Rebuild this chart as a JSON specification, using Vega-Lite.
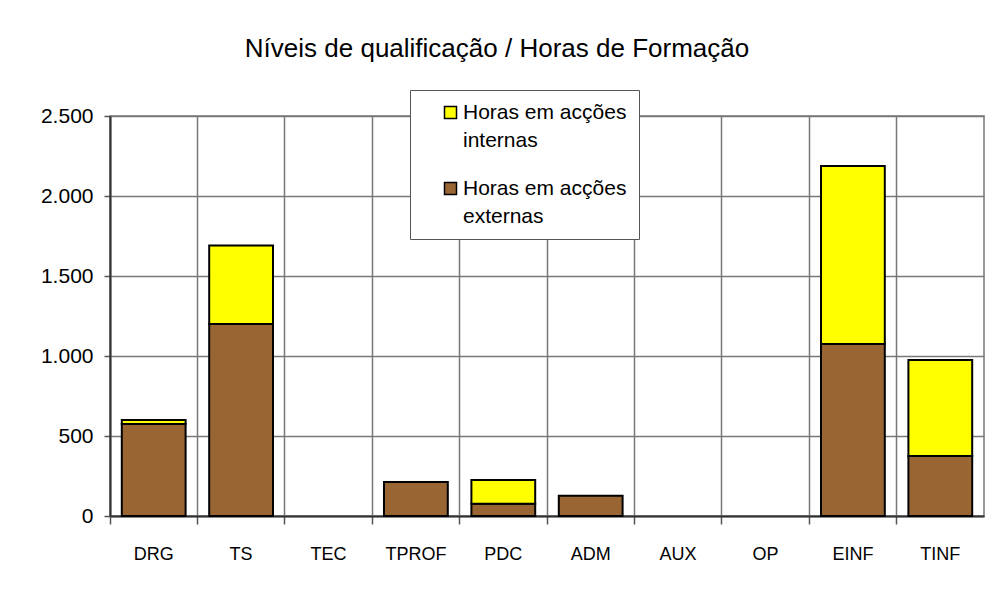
{
  "$schema": "https://vega.github.io/schema/vega-lite/v6.json",
  "width": 874,
  "height": 400,
  "autosize": {"type": "none"},
  "padding": {"left": 110, "top": 116, "right": 8, "bottom": 87},
  "background": "white",
  "title": {
    "text": "Níveis de qualificação / Horas de Formação",
    "font": "Liberation Sans",
    "fontSize": 26,
    "fontWeight": "normal",
    "color": "black",
    "anchor": "middle",
    "frame": "group",
    "dx": -50,
    "offset": 28
  },
  "data": {
    "values": [
      {"nivel": "DRG", "tipo": "Horas em acções externas", "horas": 575},
      {"nivel": "DRG", "tipo": "Horas em acções internas", "horas": 25},
      {"nivel": "TS", "tipo": "Horas em acções externas", "horas": 1200},
      {"nivel": "TS", "tipo": "Horas em acções internas", "horas": 490},
      {"nivel": "TEC", "tipo": "Horas em acções externas", "horas": 0},
      {"nivel": "TEC", "tipo": "Horas em acções internas", "horas": 0},
      {"nivel": "TPROF", "tipo": "Horas em acções externas", "horas": 212},
      {"nivel": "TPROF", "tipo": "Horas em acções internas", "horas": 0},
      {"nivel": "PDC", "tipo": "Horas em acções externas", "horas": 77},
      {"nivel": "PDC", "tipo": "Horas em acções internas", "horas": 148},
      {"nivel": "ADM", "tipo": "Horas em acções externas", "horas": 127},
      {"nivel": "ADM", "tipo": "Horas em acções internas", "horas": 0},
      {"nivel": "AUX", "tipo": "Horas em acções externas", "horas": 0},
      {"nivel": "AUX", "tipo": "Horas em acções internas", "horas": 0},
      {"nivel": "OP", "tipo": "Horas em acções externas", "horas": 0},
      {"nivel": "OP", "tipo": "Horas em acções internas", "horas": 0},
      {"nivel": "EINF", "tipo": "Horas em acções externas", "horas": 1075},
      {"nivel": "EINF", "tipo": "Horas em acções internas", "horas": 1112},
      {"nivel": "TINF", "tipo": "Horas em acções externas", "horas": 375},
      {"nivel": "TINF", "tipo": "Horas em acções internas", "horas": 600}
    ]
  },
  "transform": [{"filter": "datum.horas > 0"}],
  "mark": {"type": "bar", "stroke": "black", "strokeWidth": 2, "width": {"band": 0.73}},
  "encoding": {
    "x": {
      "field": "nivel",
      "type": "nominal",
      "sort": ["DRG", "TS", "TEC", "TPROF", "PDC", "ADM", "AUX", "OP", "EINF", "TINF"],
      "scale": {
        "domain": ["DRG", "TS", "TEC", "TPROF", "PDC", "ADM", "AUX", "OP", "EINF", "TINF"],
        "paddingInner": 0,
        "paddingOuter": 0
      },
      "axis": {
        "title": null,
        "labelAngle": 0,
        "bandPosition": 0,
        "grid": true,
        "gridColor": "#777777",
        "gridWidth": 1.5,
        "gridOpacity": 1,
        "domainColor": "#333333",
        "domainWidth": 2,
        "tickColor": "#555555",
        "tickWidth": 1.5,
        "tickSize": 8,
        "labelFont": "Liberation Sans",
        "labelFontSize": 18,
        "labelColor": "black",
        "labelPadding": 21,
        "labelAlign": "center",
        "labelBound": false,
        "labelOverlap": false
      }
    },
    "y": {
      "field": "horas",
      "type": "quantitative",
      "stack": "zero",
      "scale": {"domain": [0, 2500], "nice": false},
      "axis": {
        "title": null,
        "values": [0, 500, 1000, 1500, 2000, 2500],
        "labelExpr": "replace(format(datum.value, ','), ',', '.')",
        "grid": true,
        "gridColor": "#777777",
        "gridWidth": 1.5,
        "gridOpacity": 1,
        "domainColor": "#333333",
        "domainWidth": 2,
        "tickColor": "#555555",
        "tickWidth": 1.5,
        "tickSize": 6,
        "labelFont": "Liberation Sans",
        "labelFontSize": 21,
        "labelColor": "black",
        "labelPadding": 11
      }
    },
    "order": {"field": "tipo", "sort": "ascending"},
    "color": {
      "field": "tipo",
      "type": "nominal",
      "scale": {
        "domain": ["Horas em acções internas", "Horas em acções externas"],
        "range": ["#FFFF00", "#996633"]
      },
      "legend": {
        "title": null,
        "orient": "none",
        "legendX": 300,
        "legendY": -26,
        "padding": 12,
        "symbolOffset": 18,
        "fillColor": "white",
        "strokeColor": "#555555",
        "symbolType": "square",
        "symbolSize": 144,
        "symbolStrokeColor": "black",
        "symbolStrokeWidth": 1.5,
        "symbolOpacity": 1,
        "labelFont": "Liberation Sans",
        "labelFontSize": 21,
        "labelColor": "black",
        "labelLimit": 300,
        "labelOffset": 2,
        "labelBaseline": "middle",
        "labelExpr": "datum.label == 'Horas em acções internas' ? ['Horas em acções', 'internas'] : ['Horas em acções', 'externas']",
        "rowPadding": 26,
        "labelLineHeight": 28,
        "encode": {"labels": {"update": {"lineHeight": {"value": 28}}}}
      }
    }
  },
  "config": {
    "view": {"stroke": "#777777", "strokeWidth": 1.5}
  }
}
